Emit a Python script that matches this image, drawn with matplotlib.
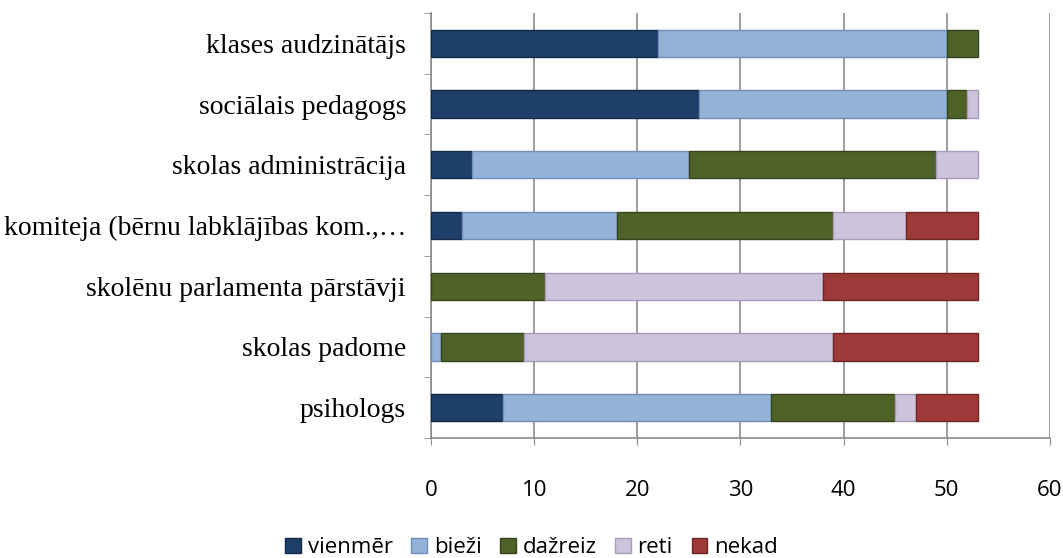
import matplotlib.pyplot as plt
import numpy as np

categories = [
    "klases audzinātājs",
    "sociālais pedagogs",
    "skolas administrācija",
    "komiteja (bērnu labklājības kom.,…",
    "skolēnu parlamenta pārstāvji",
    "skolas padome",
    "psihologs",
]
series_names = ["vienmēr", "bieži", "dažreiz", "reti", "nekad"]
vienmer = [22, 26, 4, 3, 0, 0, 7]
biezi = [28, 24, 21, 15, 0, 1, 26]
dazreiz = [3, 2, 24, 21, 11, 8, 12]
reti = [0, 1, 4, 7, 27, 30, 2]
nekad = [0, 0, 0, 7, 15, 14, 6]
x_ticks = [0, 10, 20, 30, 40, 50, 60]

colors = ["#1f3f6b", "#95b3d7", "#4f6228", "#cdc3dc", "#9b3a38"]
edges = ["#142a48", "#6e8fb8", "#35441a", "#a79bb8", "#6e2524"]

fig = plt.figure(figsize=(10.63, 5.58), dpi=100)
ax = fig.add_axes([0.4055, 0.215, 0.5822, 0.7618])

y = np.arange(len(categories))[::-1]
left = np.zeros(len(categories))
for name, vals, c, e in zip(series_names, [vienmer, biezi, dazreiz, reti, nekad], colors, edges):
    vals = np.asarray(vals, dtype=float)
    # zero-width segments would still show their edge, so mask them
    widths = np.where(vals > 0, vals, np.nan)
    ax.barh(y, widths, left=left, height=0.45, color=c, edgecolor=e, linewidth=1.0,
            label=name, zorder=3)
    left += vals

ax.set_xlim(0, 60)
ax.set_ylim(-0.5, len(categories) - 0.5)
ax.set_xticks(x_ticks)
ax.set_xticklabels([str(t) for t in x_ticks], fontfamily="Open Sans", fontsize=16)
ax.grid(axis="x", color="#8c8c8c", linewidth=1.2, zorder=0)

ax.set_yticks(y)
ax.set_yticklabels(categories, fontfamily="Liberation Serif", fontsize=20)
ax.set_yticks(np.arange(-0.5, len(categories)), minor=True)
ax.tick_params(axis="y", which="major", length=0, pad=18)
ax.tick_params(axis="y", which="minor", length=5, color="#8c8c8c", direction="out")
ax.tick_params(axis="x", length=5, color="#8c8c8c", direction="out", pad=25)

for side in ["top", "right"]:
    ax.spines[side].set_visible(False)
for side in ["left", "bottom"]:
    ax.spines[side].set_color("#8c8c8c")
    ax.spines[side].set_linewidth(1.2)

fig.legend(loc="center", bbox_to_anchor=(0.5, 0.018), ncol=5, frameon=False,
           prop={"family": "Open Sans", "size": 16}, handlelength=0.7,
           handleheight=0.7, handletextpad=0.3, columnspacing=0.85)

fig.savefig("out.png", dpi=100)
